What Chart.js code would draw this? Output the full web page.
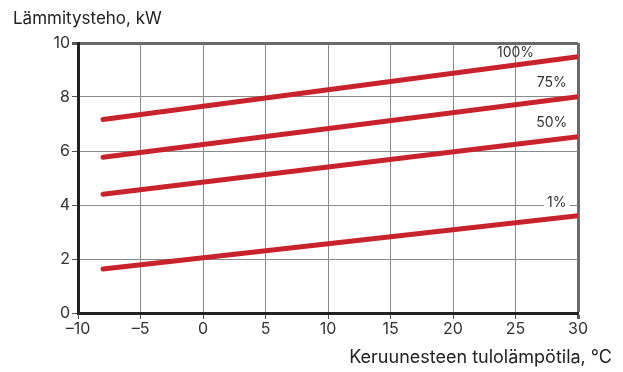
<!DOCTYPE html>
<html>
<head>
<meta charset="utf-8">
<script src="https://cdn.jsdelivr.net/npm/chart.js@4/dist/chart.umd.min.js"></script>
<style>
  html, body { margin: 0; padding: 0; background: #fff; }
  #wrap { width: 623px; height: 372px; position: relative; }
</style>
</head>
<body>
<div id="wrap"><canvas id="grafico"></canvas></div>
<script>
// Data
const temps = [-8, 30];
const teho100 = [7.17, 9.49];
const teho75 = [5.77, 8.01];
const teho50 = [4.40, 6.53];
const teho1 = [1.63, 3.60];
const sarjaNimet = ["100%", "75%", "50%", "1%"];
// label anchor points (data coords)
const nimiX = [25, 27.9, 27.9, 28.3];
const nimiY = [9.63, 8.52, 7.04, 4.07];

const punainen = "#c8222c";
const fontti = "Inter, 'Open Sans', sans-serif";

function sarja(label, arvot) {
  return {
    label: label,
    data: temps.map((t, i) => ({ x: t, y: arvot[i] })),
    borderColor: punainen,
    backgroundColor: punainen,
    borderWidth: 5,
    borderCapStyle: "round",
    pointRadius: 0,
    tension: 0,
  };
}

// titles + series names
const tekstit = {
  id: "tekstit",
  afterDraw(chart) {
    const c = chart.ctx;
    const xs = chart.scales.x, ys = chart.scales.y;
    c.save();
    c.fillStyle = "#222";
    c.font = "17px " + fontti;
    c.textBaseline = "middle";
    c.textAlign = "left";
    c.fillText("Lämmitysteho, kW", 13, 19);
    c.font = "18px " + fontti;
    c.textAlign = "right";
    c.fillText("Keruunesteen tulolämpötila, °C", 612, 358);
    c.font = "14px " + fontti;
    c.textAlign = "center";
    sarjaNimet.forEach((n, i) => {
      const px = xs.getPixelForValue(nimiX[i]);
      const py = ys.getPixelForValue(nimiY[i]);
      if (n === "1%") {
        const w = c.measureText(n).width;
        c.fillStyle = "#fff";
        c.fillRect(px - w / 2 - 3, py - 8, w + 6, 16);
      }
      c.fillStyle = "#333";
      c.fillText(n, px, py);
    });
    c.restore();
  },
};

new Chart(document.getElementById("grafico").getContext("2d"), {
  type: "line",
  data: {
    datasets: [
      sarja("100%", teho100),
      sarja("75%", teho75),
      sarja("50%", teho50),
      sarja("1%", teho1),
    ],
  },
  options: {
    responsive: true,
    maintainAspectRatio: false,
    animation: false,
    layout: { padding: { top: 43, right: 45, left: 0, bottom: 0 } },
    plugins: { legend: { display: false }, tooltip: { enabled: false } },
    scales: {
      x: {
        type: "linear",
        min: -10,
        max: 30,
        afterFit: (s) => { s.height = 59; },
        grid: {
          color: (ctx) => (ctx.tick && ctx.tick.value === 30 ? "#6a6a6a" : "#8a8a8a"),
          lineWidth: (ctx) => (ctx.tick && ctx.tick.value === 30 ? 3 : 1),
          tickLength: 6,
          tickColor: "#555",
        },
        border: { color: "#222", width: 3 },
        ticks: {
          stepSize: 5,
          color: "#333",
          padding: 1,
          maxRotation: 0,
          font: { family: fontti, size: 16 },
          callback: (v) => String(v).replace("-", "–"),
        },
      },
      y: {
        min: 0,
        max: 10,
        afterFit: (s) => { s.width = 78; },
        grid: {
          color: (ctx) => (ctx.tick && ctx.tick.value === 10 ? "#6a6a6a" : "#8a8a8a"),
          lineWidth: (ctx) => (ctx.tick && ctx.tick.value === 10 ? 3 : 1),
          tickLength: 6,
          tickColor: "#555",
        },
        border: { color: "#222", width: 3 },
        ticks: {
          stepSize: 2,
          color: "#333",
          padding: 2,
          font: { family: fontti, size: 16 },
        },
      },
    },
  },
  plugins: [tekstit],
});
</script>
</body>
</html>
